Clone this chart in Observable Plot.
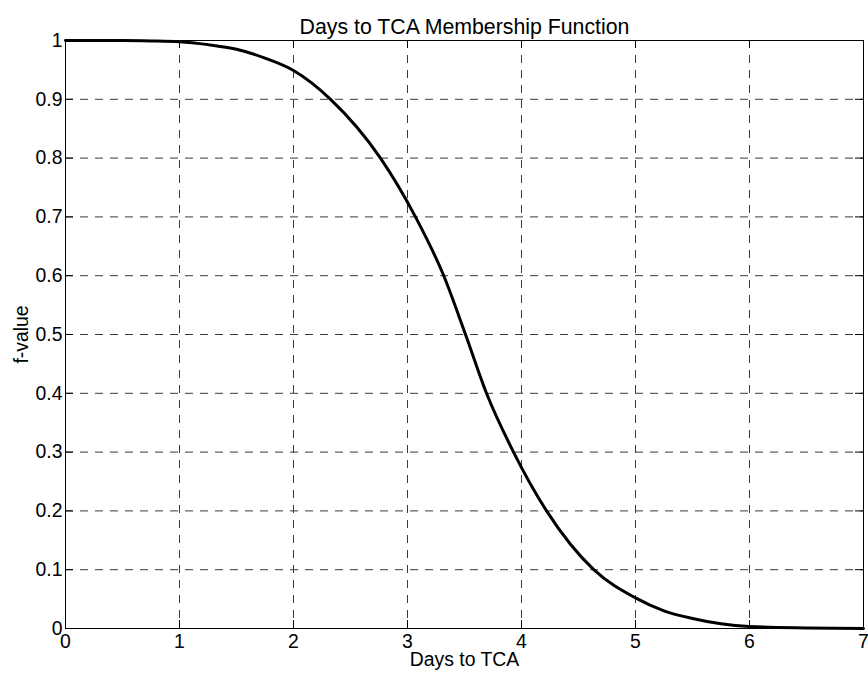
<!DOCTYPE html>
<html>
<head>
<meta charset="utf-8">
<script src="https://cdn.jsdelivr.net/npm/d3@7"></script>
<script src="https://cdn.jsdelivr.net/npm/@observablehq/plot@0.6"></script>
<style>
  html, body { margin: 0; padding: 0; background: #fff; }
  svg { display: block; }
</style>
</head>
<body>
<div id="chart"></div>
<script>
// ---- Data ----
const days   = [0, 0.5, 0.75, 1, 1.25, 1.5, 1.75, 2, 2.325, 2.763, 3.07, 3.318, 3.509, 3.693, 3.93, 4.22, 4.634, 5, 5.25, 5.5, 5.75, 6, 6.5, 7];
const fvalue = [1, 0.9999, 0.9993, 0.998, 0.993, 0.985, 0.970, 0.949, 0.9, 0.8, 0.7, 0.6, 0.5, 0.4, 0.3, 0.2, 0.1, 0.052, 0.03, 0.017, 0.008, 0.0034, 0.001, 0];

const xTicks = [0, 1, 2, 3, 4, 5, 6, 7];
const xTickLabels = ["0", "1", "2", "3", "4", "5", "6", "7"];
const yTicks = [0, 0.1, 0.2, 0.3, 0.4, 0.5, 0.6, 0.7, 0.8, 0.9, 1];
const yTickLabels = ["0", "0.1", "0.2", "0.3", "0.4", "0.5", "0.6", "0.7", "0.8", "0.9", "1"];

const titleText = "Days to TCA Membership Function";
const xLabelText = "Days to TCA";
const yLabelText = "f-value";

// ---- Layout ----
const W = 868, H = 677;
const mL = 65, mR = 5, mT = 40, mB = 49;
const innerW = W - mL - mR, innerH = H - mT - mB;
const tickLen = 8;
const font = "'Liberation Sans', Arial, Helvetica, sans-serif";

const data = days.map((d, i) => ({days: d, f: fvalue[i]}));
const gridStyle = {stroke: "#3a3a3a", strokeOpacity: 1, strokeWidth: 1, strokeDasharray: "8,7"};

const chart = Plot.plot({
  width: W,
  height: H,
  marginLeft: mL,
  marginRight: mR,
  marginTop: mT,
  marginBottom: mB,
  style: {fontFamily: font, fontSize: "19.4px", color: "#000", background: "#fff", overflow: "visible"},
  x: {domain: [0, 7], label: null},
  y: {domain: [0, 1], label: null},
  marks: [
    Plot.gridX(xTicks, gridStyle),
    Plot.gridY(yTicks, gridStyle),
    // inward ticks (bottom/top/left/right)
    Plot.tickX(xTicks, {x: d => d, insetTop: innerH - tickLen, stroke: "#000"}),
    Plot.tickX(xTicks, {x: d => d, insetBottom: innerH - tickLen, stroke: "#000"}),
    Plot.tickY(yTicks, {y: d => d, insetRight: innerW - tickLen, stroke: "#000"}),
    Plot.tickY(yTicks, {y: d => d, insetLeft: innerW - tickLen, stroke: "#000"}),
    Plot.frame({stroke: "#000", strokeWidth: 1}),
    Plot.line(data, {x: "days", y: "f", stroke: "#000", strokeWidth: 3, curve: "monotone-x"}),
    Plot.axisX({ticks: xTicks, tickFormat: (d, i) => xTickLabels[i], tickSize: 0, tickPadding: 6, fontSize: 19.4, fill: "#000", label: null}),
    Plot.axisY({ticks: yTicks, tickFormat: (d, i) => yTickLabels[i], tickSize: 0, tickPadding: 3, fontSize: 19.4, fill: "#000", label: null}),
    Plot.text([titleText], {text: d => d, frameAnchor: "top", dy: -22, fontSize: 21.3, fill: "#000", textAnchor: "middle"}),
    Plot.text([xLabelText], {text: d => d, frameAnchor: "bottom", dy: 37, fontSize: 19.4, fill: "#000", textAnchor: "middle"}),
    Plot.text([yLabelText], {text: d => d, frameAnchor: "left", dx: -44, rotate: -90, fontSize: 19.4, fill: "#000", textAnchor: "middle"})
  ]
});

document.getElementById("chart").appendChild(chart);
</script>
</body>
</html>
